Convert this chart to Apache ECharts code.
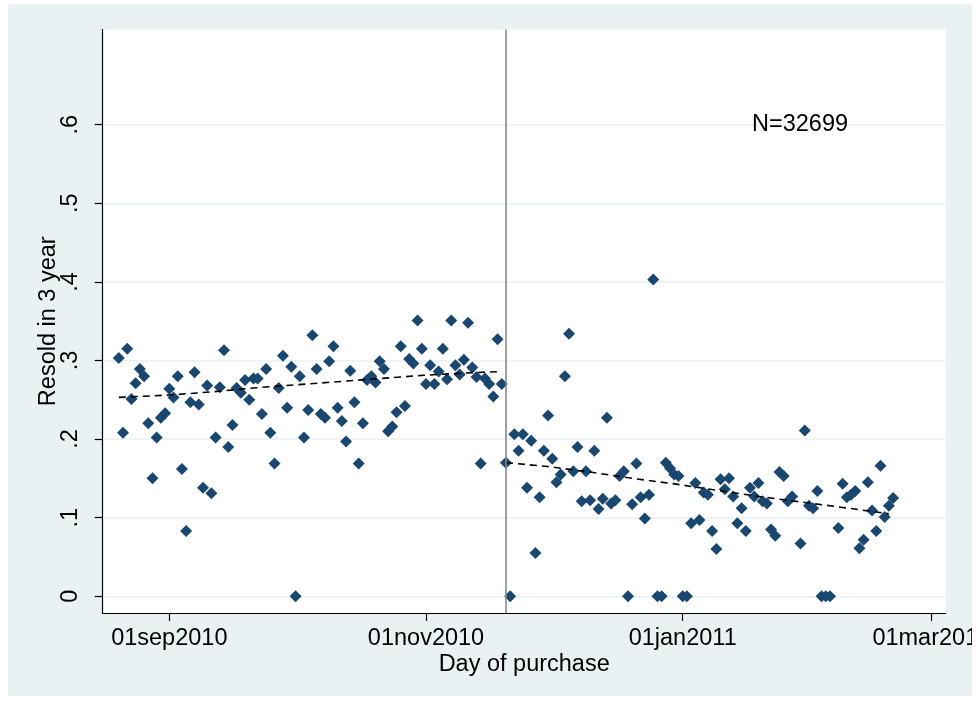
<!DOCTYPE html>
<html>
<head>
<meta charset="utf-8">
<script src="https://cdn.jsdelivr.net/npm/echarts@6/dist/echarts.min.js"></script>
<style>
  html, body { margin: 0; padding: 0; background: #ffffff; width: 976px; height: 701px; overflow: hidden; }
  #chart { position: absolute; left: 8px; top: 4px; width: 964px; height: 692px; }
</style>
</head>
<body>
<div id="chart"></div>
<script>
// ---------------- data ----------------
const leftDates = [
  '2010-08-20','2010-08-21','2010-08-22','2010-08-23','2010-08-24','2010-08-25','2010-08-26','2010-08-27','2010-08-28','2010-08-29','2010-08-30','2010-08-31',
  '2010-09-01','2010-09-02','2010-09-03','2010-09-04','2010-09-05','2010-09-06','2010-09-07','2010-09-08','2010-09-09','2010-09-10',
  '2010-09-11','2010-09-12','2010-09-13','2010-09-14','2010-09-15','2010-09-16','2010-09-17','2010-09-18','2010-09-19','2010-09-20',
  '2010-09-21','2010-09-22','2010-09-23','2010-09-24','2010-09-25','2010-09-26','2010-09-27','2010-09-28','2010-09-29','2010-09-30',
  '2010-10-01','2010-10-02','2010-10-03','2010-10-04','2010-10-05','2010-10-06','2010-10-07','2010-10-08','2010-10-09','2010-10-10',
  '2010-10-11','2010-10-12','2010-10-13','2010-10-14','2010-10-15','2010-10-16','2010-10-17','2010-10-18','2010-10-19','2010-10-20',
  '2010-10-21','2010-10-22','2010-10-23','2010-10-24','2010-10-25','2010-10-26','2010-10-27','2010-10-28','2010-10-29','2010-10-30','2010-10-31',
  '2010-11-01','2010-11-02','2010-11-03','2010-11-04','2010-11-05','2010-11-06','2010-11-07','2010-11-08','2010-11-09','2010-11-10',
  '2010-11-11','2010-11-12','2010-11-13','2010-11-14','2010-11-15','2010-11-16','2010-11-17','2010-11-18','2010-11-19'
];
const leftValues = [
  0.303,0.208,0.315,0.251,0.271,0.289,0.280,0.220,0.150,0.202,0.227,0.233,
  0.264,0.253,0.280,0.162,0.083,0.247,0.285,0.244,0.138,0.268,
  0.131,0.202,0.266,0.313,0.190,0.218,0.265,0.259,0.275,0.250,
  0.277,0.277,0.232,0.289,0.208,0.169,0.265,0.306,0.240,0.292,
  0.000,0.280,0.202,0.237,0.332,0.289,0.232,0.227,0.299,0.318,
  0.240,0.223,0.197,0.287,0.247,0.169,0.220,0.275,0.280,0.272,
  0.299,0.289,0.210,0.216,0.234,0.318,0.242,0.302,0.296,0.351,0.315,
  0.270,0.294,0.270,0.286,0.315,0.276,0.351,0.294,0.282,0.301,
  0.348,0.291,0.279,0.169,0.277,0.270,0.254,0.327,0.270
];
const rightDates = [
  '2010-11-20','2010-11-21','2010-11-22','2010-11-23','2010-11-24','2010-11-25','2010-11-26','2010-11-27','2010-11-28','2010-11-29','2010-11-30',
  '2010-12-01','2010-12-02','2010-12-03','2010-12-04','2010-12-05','2010-12-06','2010-12-07','2010-12-08','2010-12-09','2010-12-10',
  '2010-12-11','2010-12-12','2010-12-13','2010-12-14','2010-12-15','2010-12-16','2010-12-17','2010-12-18','2010-12-19','2010-12-20',
  '2010-12-21','2010-12-22','2010-12-23','2010-12-24','2010-12-25','2010-12-26','2010-12-27','2010-12-28','2010-12-29','2010-12-30','2010-12-31',
  '2011-01-01','2011-01-02','2011-01-03','2011-01-04','2011-01-05','2011-01-06','2011-01-07','2011-01-08','2011-01-09','2011-01-10',
  '2011-01-11','2011-01-12','2011-01-13','2011-01-14','2011-01-15','2011-01-16','2011-01-17','2011-01-18','2011-01-19','2011-01-20',
  '2011-01-21','2011-01-22','2011-01-23','2011-01-24','2011-01-25','2011-01-26','2011-01-27','2011-01-29','2011-01-30','2011-01-31',
  '2011-02-01','2011-02-02','2011-02-03','2011-02-04','2011-02-05','2011-02-07','2011-02-08','2011-02-09','2011-02-10',
  '2011-02-11','2011-02-12','2011-02-13','2011-02-14','2011-02-15','2011-02-16','2011-02-17','2011-02-18','2011-02-19','2011-02-20'
];
const rightValues = [
  0.170,0.000,0.206,0.185,0.206,0.138,0.198,0.055,0.126,0.185,0.230,
  0.175,0.145,0.155,0.280,0.334,0.159,0.190,0.121,0.159,0.122,
  0.185,0.111,0.124,0.227,0.118,0.122,0.153,0.159,0.000,0.117,
  0.169,0.126,0.099,0.129,0.403,0.000,0.000,0.170,0.163,0.155,0.153,
  0.000,0.000,0.093,0.144,0.097,0.132,0.129,0.083,0.060,0.149,
  0.136,0.150,0.127,0.093,0.112,0.083,0.138,0.127,0.144,0.121,
  0.118,0.085,0.077,0.158,0.153,0.121,0.127,0.067,0.211,0.115,
  0.112,0.134,0.000,0.000,0.000,0.087,0.143,0.126,0.129,
  0.134,0.061,0.072,0.145,0.109,0.083,0.166,0.101,0.115,0.125
];
const fitLeftDates = ['2010-08-20','2010-09-01','2010-09-11','2010-09-21','2010-10-01','2010-10-11','2010-10-21','2010-10-31','2010-11-10','2010-11-19'];
const fitLeftValues = [0.253,0.256,0.260,0.265,0.269,0.273,0.277,0.281,0.284,0.286];
const fitRightDates = ['2010-11-20','2010-11-30','2010-12-10','2010-12-20','2010-12-30','2011-01-09','2011-01-19','2011-01-29','2011-02-08','2011-02-19'];
const fitRightValues = [0.170,0.165,0.158,0.150,0.143,0.135,0.127,0.120,0.113,0.105];

const cutoffDate = '2010-11-20';
const xTickDates = ['2010-09-01','2010-11-01','2011-01-01','2011-03-01'];
const xTickLabels = ['01sep2010','01nov2010','01jan2011','01mar2011'];
const yTickValues = [0, 0.1, 0.2, 0.3, 0.4, 0.5, 0.6];
const yTickLabels = ['0', '.1', '.2', '.3', '.4', '.5', '.6'];
const annotationText = 'N=32699';

// ---------------- chart ----------------
function toTime(s) { const p = s.split('-').map(Number); return Date.UTC(p[0], p[1] - 1, p[2]); }
const pairs = (ds, vs) => ds.map((d, i) => [toTime(d), vs[i]]);
const xTickTimes = xTickDates.map(toTime);
const DAY = 86400000;

const FONT = 'Liberation Sans, Arial, sans-serif';
const FS = 23.5;
const navy = '#1a476f';
const gridCol = '#e8f0f2';

const chart = echarts.init(document.getElementById('chart'), null, { renderer: 'canvas' });
chart.setOption({
  animation: false,
  backgroundColor: '#eaf1f3',
  textStyle: { fontFamily: FONT },
  grid: {
    left: 94.7, top: 25.5, right: 26.3, bottom: 83,
    show: true, backgroundColor: '#ffffff', borderWidth: 0,
    outerBoundsMode: 'none'
  },
  xAxis: {
    type: 'value',
    scale: true,
    min: toTime('2010-09-01') - 15.83 * DAY,
    max: toTime('2011-03-01') + 3.5 * DAY,
    name: 'Day of purchase',
    nameLocation: 'middle',
    nameGap: 40,
    nameMoveOverlap: false,
    nameTextStyle: { fontSize: FS, color: '#000', fontFamily: FONT, verticalAlign: 'top' },
    axisLine: { show: true, onZero: false, lineStyle: { color: '#000', width: 1.2 } },
    axisTick: { show: true, length: 8, lineStyle: { color: '#000', width: 1.2 }, customValues: xTickTimes },
    axisLabel: {
      show: true, fontSize: FS, color: '#000', fontFamily: FONT, margin: 14,
      customValues: xTickTimes,
      formatter: (v) => { const i = xTickTimes.findIndex(t => Math.abs(t - v) < 1000); return i >= 0 ? xTickLabels[i] : ''; },
      hideOverlap: false, showMinLabel: true, showMaxLabel: true
    },
    splitLine: { show: false },
    minorTick: { show: false }
  },
  yAxis: {
    type: 'value',
    min: -0.0213,
    max: 0.7211,
    name: 'Resold in 3 year',
    nameLocation: 'middle',
    nameGap: 42,
    nameRotate: 90,
    nameMoveOverlap: false,
    nameTextStyle: { fontSize: FS, color: '#000', fontFamily: FONT },
    axisLine: { show: true, onZero: false, lineStyle: { color: '#000', width: 1.2 } },
    axisTick: { show: true, length: 8, lineStyle: { color: '#000', width: 1.2 }, customValues: yTickValues },
    axisLabel: {
      show: true, rotate: 90, fontSize: FS, color: '#000', fontFamily: FONT, margin: 20,
      customValues: yTickValues,
      formatter: (v) => { const i = yTickValues.findIndex(t => Math.abs(t - v) < 1e-9); return i >= 0 ? yTickLabels[i] : ''; },
      showMinLabel: true, showMaxLabel: true
    },
    splitLine: { show: true, lineStyle: { color: gridCol, width: 1.5 } }
  },
  graphic: [{
    type: 'text', x: 744, y: 121,
    style: { text: annotationText, fill: '#000', font: FS + 'px ' + FONT, textAlign: 'left', textVerticalAlign: 'middle' },
    z: 100
  }],
  series: [
    {
      type: 'scatter', name: 'left', data: pairs(leftDates, leftValues),
      symbol: 'diamond', symbolSize: 12, itemStyle: { color: navy, opacity: 1 }, z: 3
    },
    {
      type: 'scatter', name: 'right', data: pairs(rightDates, rightValues),
      symbol: 'diamond', symbolSize: 12, itemStyle: { color: navy, opacity: 1 }, z: 3
    },
    {
      type: 'line', name: 'fitLeft', data: pairs(fitLeftDates, fitLeftValues),
      showSymbol: false, symbol: 'none', smooth: false,
      lineStyle: { color: '#000', width: 1.6, type: [7, 5] }, z: 4
    },
    {
      type: 'line', name: 'fitRight', data: pairs(fitRightDates, fitRightValues),
      showSymbol: false, symbol: 'none', smooth: false,
      lineStyle: { color: '#000', width: 1.6, type: [7, 5] }, z: 4,
      markLine: {
        silent: true, symbol: ['none', 'none'], label: { show: false },
        lineStyle: { color: '#8a8a8a', width: 1.6, type: 'solid' },
        data: [{ xAxis: toTime(cutoffDate) }]
      }
    }
  ]
});
</script>
</body>
</html>
